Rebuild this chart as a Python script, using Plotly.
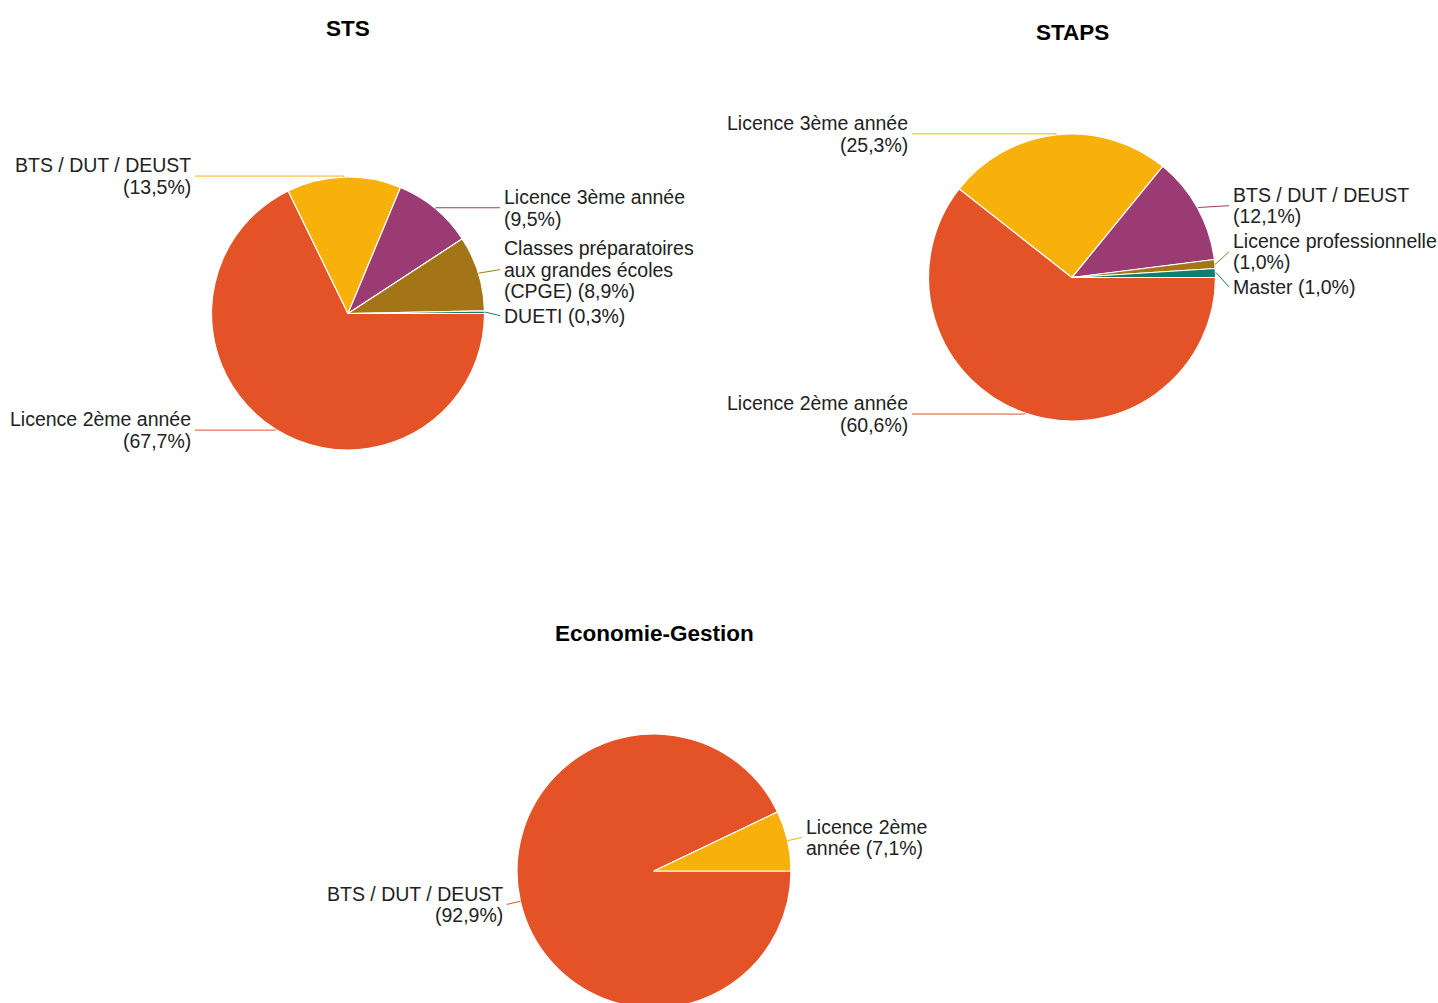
import math
import plotly.graph_objects as go

# ---------------- data ----------------
sts_categories = ["Licence 2ème année", "BTS / DUT / DEUST", "Licence 3ème année",
                  "Classes préparatoires aux grandes écoles (CPGE)", "DUETI"]
sts_values = [67.7, 13.5, 9.5, 8.9, 0.3]
sts_label_text = ["Licence 2ème année\n({p})", "BTS / DUT / DEUST\n({p})", "Licence 3ème année\n({p})",
                  "Classes préparatoires\naux grandes écoles\n(CPGE) ({p})", "DUETI ({p})"]

staps_categories = ["Licence 2ème année", "Licence 3ème année", "BTS / DUT / DEUST",
                    "Licence professionnelle", "Master"]
staps_values = [60.6, 25.3, 12.1, 1.0, 1.0]
staps_label_text = ["Licence 2ème année\n({p})", "Licence 3ème année\n({p})", "BTS / DUT / DEUST\n({p})",
                    "Licence professionnelle\n({p})", "Master ({p})"]

eco_categories = ["BTS / DUT / DEUST", "Licence 2ème année"]
eco_values = [92.9, 7.1]
eco_label_text = ["BTS / DUT / DEUST\n({p})", "Licence 2ème\nannée ({p})"]

titles = ["STS", "STAPS", "Economie-Gestion"]
slice_colors = ["#E35327", "#F8B10A", "#9A3B74", "#A47516", "#0F7F6C"]

# ---------------- layout (pixels) ----------------
W, H = 1438, 1010
VIEW_H = 1003
FONT = "Liberation Sans, Arial, sans-serif"
TITLE_FONT = "Liberation Sans, Arial, sans-serif"
LABEL_SIZE = 19.5
LINE_H = 21.5
LABEL_GAP = 3

pies = [
    dict(title=titles[0], cats=sts_categories, vals=sts_values, texts=sts_label_text,
         cx=348, cy=313.5, r=136.5, title_y=28, gap_l=19.5, gap_r=18.5, knee=1),
    dict(title=titles[1], cats=staps_categories, vals=staps_values, texts=staps_label_text,
         cx=1072, cy=277.5, r=143.5, title_y=32, gap_l=19.5, gap_r=16.5, knee=1),
    dict(title=titles[2], cats=eco_categories, vals=eco_values, texts=eco_label_text,
         cx=654, cy=871, r=137, title_y=633, gap_l=13, gap_r=14, knee=14),
]


def px(x):
    return x / W


def py(y):
    return 1 - y / H


def fmt_pct(v):
    return ("%.1f%%" % v).replace(".", ",")


def resolve(items):
    items.sort(key=lambda d: d["y"])
    for _ in range(100):
        moved = False
        for a, b in zip(items, items[1:]):
            a_bot = a["y"] + a["n"] * LINE_H / 2
            b_top = b["y"] - b["n"] * LINE_H / 2
            ov = a_bot + LABEL_GAP - b_top
            if ov > 0.01:
                a["y"] -= ov / 2
                b["y"] += ov / 2
                moved = True
        if not moved:
            break


fig = go.Figure()
annotations = []
shapes = []


def seg(x0, y0, x1, y1, color):
    shapes.append(dict(type="line", xref="paper", yref="paper",
                       x0=px(x0), y0=py(y0), x1=px(x1), y1=py(y1),
                       line=dict(color=color, width=1)))


for p in pies:
    cx, cy, r = p["cx"], p["cy"], p["r"]
    fig.add_trace(go.Pie(
        labels=p["cats"], values=p["vals"], sort=False, direction="clockwise", rotation=90,
        marker=dict(colors=slice_colors[:len(p["vals"])], line=dict(color="white", width=1.2)),
        textinfo="none", hoverinfo="label+percent", showlegend=False,
        domain=dict(x=[px(cx - r), px(cx + r)], y=[py(cy + r), py(cy - r)]),
    ))
    annotations.append(dict(
        text="<b>%s</b>" % p["title"], x=px(cx), y=py(p["title_y"]), xref="paper", yref="paper",
        xanchor="center", yanchor="middle", showarrow=False,
        font=dict(family=TITLE_FONT, size=22.5, color="#000000")))

    total = sum(p["vals"])
    start = 0.0
    left, right = [], []
    for i, v in enumerate(p["vals"]):
        sweep = 360.0 * v / total
        mid = math.radians(start - sweep / 2)
        start -= sweep
        c, s = math.cos(mid), math.sin(mid)
        ex, ey = cx + r * c, cy - r * s
        kx, ky = cx + (r + p["knee"]) * c, cy - (r + p["knee"]) * s
        lines = p["texts"][i].format(p=fmt_pct(v)).split("\n")
        item = dict(ex=ex, ey=ey, kx=kx, ky=ky, y=ky, n=len(lines), lines=lines, color=slice_colors[i])
        (left if c < 0 else right).append(item)
    resolve(left)
    resolve(right)

    for side, items in (("left", left), ("right", right)):
        if side == "left":
            lx = cx - r - p["gap_l"]
            anchor_x = lx + 3
            xanchor = "right"
        else:
            lx = cx + r + p["gap_r"]
            anchor_x = lx - 3
            xanchor = "left"
        for it in items:
            n = it["n"]
            for k, line in enumerate(it["lines"]):
                ly = it["y"] + (k - (n - 1) / 2) * LINE_H
                annotations.append(dict(
                    text=line, x=px(lx), y=py(ly), xref="paper", yref="paper",
                    xanchor=xanchor, yanchor="middle", showarrow=False, borderpad=0,
                    font=dict(family=FONT, size=LABEL_SIZE, color="#222222")))
            seg(it["ex"], it["ey"], it["kx"], it["ky"], it["color"])
            seg(it["kx"], it["ky"], anchor_x, it["y"], it["color"])

fig.update_layout(
    width=W, height=H, margin=dict(l=0, r=0, t=0, b=0, pad=0),
    paper_bgcolor="white", plot_bgcolor="white",
    annotations=annotations, shapes=shapes, showlegend=False,
)

post = ("document.body.style.margin='0';"
        "document.documentElement.style.overflow='hidden';"
        "document.body.style.overflow='hidden';"
        "var gd=document.getElementById('{plot_id}');"
        "if(gd&&gd.parentElement){gd.parentElement.style.height='%dpx';"
        "gd.parentElement.style.overflow='hidden';}" % VIEW_H)

fig.write_html("out.html", config={"displayModeBar": False}, post_script=post)
